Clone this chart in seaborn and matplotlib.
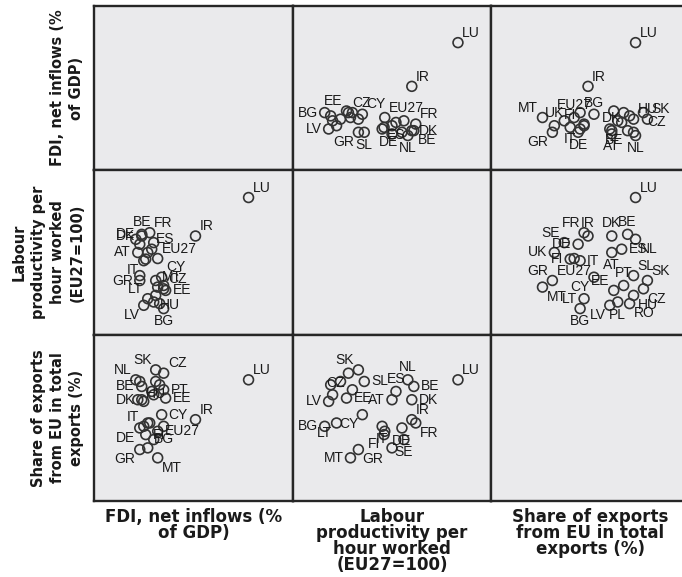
import matplotlib
matplotlib.use("Agg")
import matplotlib.pyplot as plt
import seaborn as sns
import pandas as pd

# ---------------- data ----------------
countries = ["LU", "IR", "BE", "BG", "CZ", "DK", "DE", "EE", "GR", "ES",
             "FR", "IT", "CY", "LV", "LT", "HU", "MT", "NL", "AT", "PL",
             "PT", "RO", "SL", "SK", "FI", "SE", "UK", "EU27"]
fdi = [36.6, 20.6, 4.4, 11.0, 11.0, 4.4, 3.8, 11.6, 3.8, 7.4,
       6.8, 5.0, 10.4, 5.0, 6.2, 8.6, 9.2, 2.6, 3.2, 8.0,
       11.0, 9.8, 3.8, 8.6, 5.6, 8.0, 6.2, 9.2]
productivity = [175.8, 128.0, 130.1, 37.8, 62.4, 128.0, 117.8, 60.4, 72.7, 111.6,
                132.1, 97.3, 76.8, 41.9, 50.1, 54.2, 64.5, 123.9, 107.5, 46.0,
                66.5, 44.0, 78.8, 72.7, 99.3, 119.8, 107.5, 100.0]
exports_share = [78.4, 59.2, 75.2, 56.0, 81.6, 68.8, 55.2, 69.6, 44.8, 72.8,
                 57.6, 56.0, 61.6, 68.0, 57.6, 77.6, 40.8, 78.4, 68.8, 71.2,
                 73.6, 76.0, 77.6, 83.2, 52.0, 49.6, 45.6, 53.6]

var_keys = ["fdi", "prod", "exp"]
var_titles = ["FDI, net inflows (%\nof GDP)",
              "Labour\nproductivity per\nhour worked\n(EU27=100)",
              "Share of exports\nfrom EU in total\nexports (%)"]

df = pd.DataFrame({"country": countries, "fdi": fdi,
                   "prod": productivity, "exp": exports_share})

# ---------------- layout / style ----------------
limits = {"fdi": (-10, 50), "prod": (5, 210), "exp": (20, 100)}

# which point labels are visible in each panel and on which side
label_side = {
    (0, 1): {'LU': 'ur', 'IR': 'ur', 'CZ': 'ur', 'EE': 'ul', 'BG': 'l', 'CY': 'ur',
             'EU27': 'ur', 'FR': 'ur', 'LV': 'l', 'DK': 'r', 'ES': 'b', 'BE': 'br',
             'GR': 'bl', 'SL': 'b', 'DE': 'bl', 'NL': 'b'},
    (0, 2): {'LU': 'ur', 'IR': 'ur', 'MT': 'ul', 'EU27': 'u', 'BG': 'ur', 'HU': 'ur',
             'SK': 'ur', 'UK': 'u', 'FI': 'u', 'DK': 'u', 'GR': 'bl', 'IT': 'bl',
             'BE': 'bl', 'AT': 'b', 'NL': 'b', 'DE': 'b', 'CZ': 'br'},
    (1, 0): {'LU': 'ur', 'IR': 'ur', 'FR': 'ur', 'BE': 'u', 'DE': 'ul', 'ES': 'ur',
             'AT': 'l', 'EU27': 'ur', 'DK': 'l', 'CY': 'ur', 'GR': 'l', 'IT': 'bl',
             'MT': 'ur', 'CZ': 'ur', 'LT': 'ul', 'EE': 'r', 'LV': 'bl', 'HU': 'br',
             'BG': 'b'},
    (1, 2): {'LU': 'ur', 'FR': 'ul', 'SE': 'ul', 'IR': 'u', 'DK': 'u', 'BE': 'u',
             'UK': 'l', 'DE': 'l', 'ES': 'r', 'NL': 'br', 'FI': 'l', 'IT': 'r',
             'AT': 'b', 'GR': 'ul', 'EU27': 'b', 'SL': 'ur', 'SK': 'ur', 'PT': 'u',
             'EE': 'ul', 'CY': 'bl', 'MT': 'br', 'LT': 'l', 'HU': 'br', 'CZ': 'br',
             'BG': 'b', 'LV': 'bl', 'PL': 'b', 'RO': 'br'},
    (2, 0): {'SK': 'ul', 'CZ': 'ur', 'NL': 'ul', 'LU': 'ur', 'BE': 'l', 'HU': 'b',
             'PT': 'r', 'EE': 'r', 'DK': 'l', 'IR': 'ur', 'CY': 'r', 'IT': 'ul',
             'EU27': 'r', 'DE': 'bl', 'FI': 'r', 'BG': 'b', 'GR': 'bl', 'MT': 'br'},
    (2, 1): {'SK': 'ul', 'NL': 'u', 'LU': 'ur', 'CZ': 'bl', 'SL': 'r', 'ES': 'u',
             'BE': 'r', 'EE': 'r', 'LV': 'l', 'AT': 'l', 'DK': 'r', 'BG': 'l',
             'IR': 'ur', 'FR': 'br', 'LT': 'bl', 'CY': 'bl', 'FI': 'bl', 'IT': 'b',
             'DE': 'b', 'MT': 'l', 'GR': 'br', 'SE': 'b'},
}
side_style = {
    'ur': ((3, 2), 'left', 'bottom'),
    'ul': ((-3, 2), 'right', 'bottom'),
    'u': ((0, 4), 'center', 'bottom'),
    'r': ((5, 0), 'left', 'center'),
    'l': ((-5, 0), 'right', 'center'),
    'b': ((0, -4), 'center', 'top'),
    'br': ((3, -2), 'left', 'top'),
    'bl': ((-3, -2), 'right', 'top'),
}

sns.set_style("white")
plt.rcParams['font.family'] = ['DejaVu Sans']

W, H = 682, 577
fig = plt.figure(figsize=(W / 100, H / 100), dpi=100)

col_edges = [94, 293, 491, 689]
row_edges = [6, 170, 335, 501]
panel_bg = "#EAEAEC"
line_col = "#262626"
text_col = "#1a1a1a"

axes = {}
for r in range(3):
    for c in range(3):
        x0, x1 = col_edges[c], col_edges[c + 1]
        y0, y1 = row_edges[r], row_edges[r + 1]
        ax = fig.add_axes([x0 / W, 1 - y1 / H, (x1 - x0) / W, (y1 - y0) / H])
        ax.set_facecolor(panel_bg)
        for s in ax.spines.values():
            s.set_color(line_col)
            s.set_linewidth(1.7)
        axes[(r, c)] = ax

        if r != c:
            xk, yk = var_keys[c], var_keys[r]
            sns.scatterplot(data=df, x=xk, y=yk, ax=ax, marker='o', s=50,
                            facecolors='none', edgecolor='#333333',
                            linewidth=1.2, legend=False, zorder=3)
            for name, side in label_side[(r, c)].items():
                row = df[df.country == name].iloc[0]
                off, ha, va = side_style[side]
                ax.annotate(name, (row[xk], row[yk]), xytext=off,
                            textcoords='offset points', ha=ha, va=va,
                            fontsize=10, color=text_col,
                            family=['Liberation Sans', 'DejaVu Sans'],
                            zorder=4)
        ax.set_xlim(*limits[var_keys[c]])
        ax.set_ylim(*limits[var_keys[r]])
        ax.set_xticks([])
        ax.set_yticks([])
        ax.set_xlabel("")
        ax.set_ylabel("")

# variable titles
for i in range(3):
    axes[(2, i)].set_xlabel(var_titles[i], fontsize=12, fontweight='bold',
                            color=text_col, labelpad=5, linespacing=0.86,
                            visible=True)
    axes[(i, 0)].set_ylabel(var_titles[i], fontsize=10.5, fontweight='bold',
                            color=text_col, labelpad=7, linespacing=1.35,
                            visible=True)

fig.savefig("out.png", dpi=100, facecolor="white")
